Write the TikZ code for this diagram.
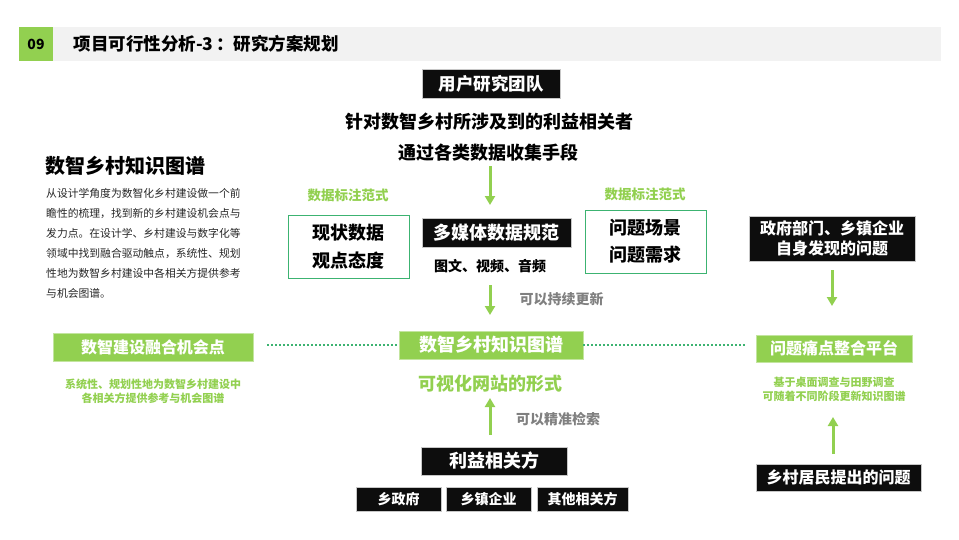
\documentclass[tikz,border=0pt]{standalone}
\usepackage{fontspec}
\setmainfont{Noto Sans CJK SC}
\usetikzlibrary{arrows.meta}
\definecolor{lgreen}{HTML}{92D050}
\definecolor{tgreen}{RGB}{60,179,113}
\definecolor{boxblack}{HTML}{0D0D0D}
\definecolor{hgrey}{HTML}{F2F2F2}
\definecolor{notegrey}{HTML}{808080}
\newcommand{\pxsize}[2]{\fontsize{#1}{#2}\selectfont}

\begin{document}
\begin{tikzpicture}[x=1pt,y=-1pt,
    blackbox/.style={fill=boxblack,draw=black!22,line width=0.8pt,text=white,inner sep=0pt},
    greenbox/.style={fill=lgreen,draw=lgreen!55,line width=0.8pt,text=white,inner sep=0pt},
    linebox/.style={draw=tgreen,line width=0.9pt,inner sep=0pt,align=center},
    garrow/.style={lgreen,line width=3pt,-{Triangle[width=10pt,length=9pt]}},
    dotline/.style={tgreen,line width=1.6pt,dash pattern=on 1.6pt off 2.4pt}]
      \useasboundingbox (0,0) rectangle (959,539) ;
      % header
      \fill[hgrey] (53,27) rectangle (941,61) ;
      \fill[lgreen] (19,27) rectangle (53,61) ;
      \node[font=\bfseries\pxsize{14}{14}] (num) at (36,44) {09} ;
      \node[anchor=west,font=\bfseries\pxsize{17.5}{17.5}] %
      (title) at (70,44) {项目可行性分析-3\,：研究方案规划} ;
      % left column
      \node[anchor=west,font=\bfseries\pxsize{20}{20}] (kgtitle) at (42,166) {数智乡村知识图谱} ;
      \node[anchor=north west,align=left,inner sep=0pt,text=black!85,font=\pxsize{10.8}{20}] %
      (intro) at (46,188) {从设计学角度为数智化乡村建设做一个前\\瞻性的梳理，找到新的乡村建设机会点与\\发力点。在设计学、乡村建设与数字化等\\领域中找到融合驱动触点，系统性、规划\\性地为数智乡村建设中各相关方提供参考\\与机会图谱。} ;
      \node[greenbox,minimum width=200,minimum height=28,font=\bfseries\pxsize{16}{16}] %
      (chance) at (153,347) {数智建设融合机会点} ;
      \node[text=lgreen,align=center,font=\bfseries\pxsize{11}{14}] %
      (chancenote) at (153,391) {系统性、规划性地为数智乡村建设中\\各相关方提供参考与机会图谱} ;
      % centre column
      \node[blackbox,minimum width=138,minimum height=29,font=\bfseries\pxsize{17.5}{17.5}] %
      (team) at (491,83.5) {用户研究团队} ;
      \node[font=\bfseries\pxsize{18}{18}] (aim) at (489.5,122) {针对数智乡村所涉及到的利益相关者} ;
      \node[font=\bfseries\pxsize{18}{18}] (means) at (488.5,153) {通过各类数据收集手段} ;
      \node[blackbox,minimum width=149,minimum height=29,font=\bfseries\pxsize{18}{18}] %
      (media) at (496.5,232.5) {多媒体数据规范} ;
      \node[font=\bfseries\pxsize{14}{14}] (mediatype) at (490,266) {图文、视频、音频} ;
      \node[text=lgreen,font=\bfseries\pxsize{13.5}{13.5}] (tagL) at (348,195) {数据标注范式} ;
      \node[linebox,minimum width=121,minimum height=63,font=\bfseries\pxsize{18}{28}] %
      (statusbox) at (348.5,246.5) {现状数据\\观点态度} ;
      \node[text=lgreen,font=\bfseries\pxsize{13.5}{13.5}] (tagR) at (645,194) {数据标注范式} ;
      \node[linebox,minimum width=121,minimum height=63,font=\bfseries\pxsize{18}{27}] %
      (problembox) at (645.5,241.5) {问题场景\\问题需求} ;
      \node[text=notegrey,font=\bfseries\pxsize{14}{14}] (update) at (561.5,299) {可以持续更新} ;
      \node[greenbox,minimum width=184,minimum height=28,font=\bfseries\pxsize{18}{18}] %
      (kg) at (491,345) {数智乡村知识图谱} ;
      \node[text=lgreen,font=\bfseries\pxsize{18}{18}] (web) at (490.5,384) {可视化网站的形式} ;
      \node[text=notegrey,font=\bfseries\pxsize{14}{14}] (search) at (558,419) {可以精准检索} ;
      \node[blackbox,minimum width=146,minimum height=28,font=\bfseries\pxsize{18}{18}] %
      (stake) at (494,461) {利益相关方} ;
      \node[blackbox,minimum width=85,minimum height=24,font=\bfseries\pxsize{14}{14}] %
      (town) at (398.5,499) {乡政府} ;
      \node[blackbox,minimum width=85,minimum height=24,font=\bfseries\pxsize{14}{14}] %
      (firm) at (488.5,499) {乡镇企业} ;
      \node[blackbox,minimum width=91,minimum height=24,font=\bfseries\pxsize{14}{14}] %
      (other) at (582.5,499) {其他相关方} ;
      % right column
      \node[blackbox,minimum width=166,minimum height=45,align=center,font=\bfseries\pxsize{16}{20}] %
      (gov) at (832,238.5) {政府部门、乡镇企业\\自身发现的问题} ;
      \node[greenbox,minimum width=156,minimum height=27,font=\bfseries\pxsize{16}{16}] %
      (pain) at (834,348.5) {问题痛点整合平台} ;
      \node[text=lgreen,align=center,font=\bfseries\pxsize{11}{13.5}] %
      (painnote) at (834,389.5) {基于桌面调查与田野调查\\可随着不同阶段更新知识图谱} ;
      \node[blackbox,minimum width=165,minimum height=27,font=\bfseries\pxsize{16}{16}] %
      (villager) at (838.5,477.5) {乡村居民提出的问题} ;
      % arrows
      \coordinate (A1) at (490,166) ;
      \coordinate (A2) at (490,285) ;
      \coordinate (A3) at (490,435) ;
      \coordinate (A4) at (832,270) ;
      \coordinate (A5) at (833,454) ;
      \draw[garrow] (A1) -- ++(0,39) ;
      \draw[garrow] (A2) -- ++(0,30) ;
      \draw[garrow] (A3) -- ++(0,-37) ;
      \draw[garrow] (A4) -- ++(0,36) ;
      \draw[garrow] (A5) -- ++(0,-37) ;
      % dotted links
      \draw[dotline,shorten <=14pt] (chance.east |- kg.west) -- (kg.west) ;
      \draw[dotline,shorten >=11pt] (kg.east) -- (kg.east -| pain.west) ;
    \end{tikzpicture}
\end{document}
